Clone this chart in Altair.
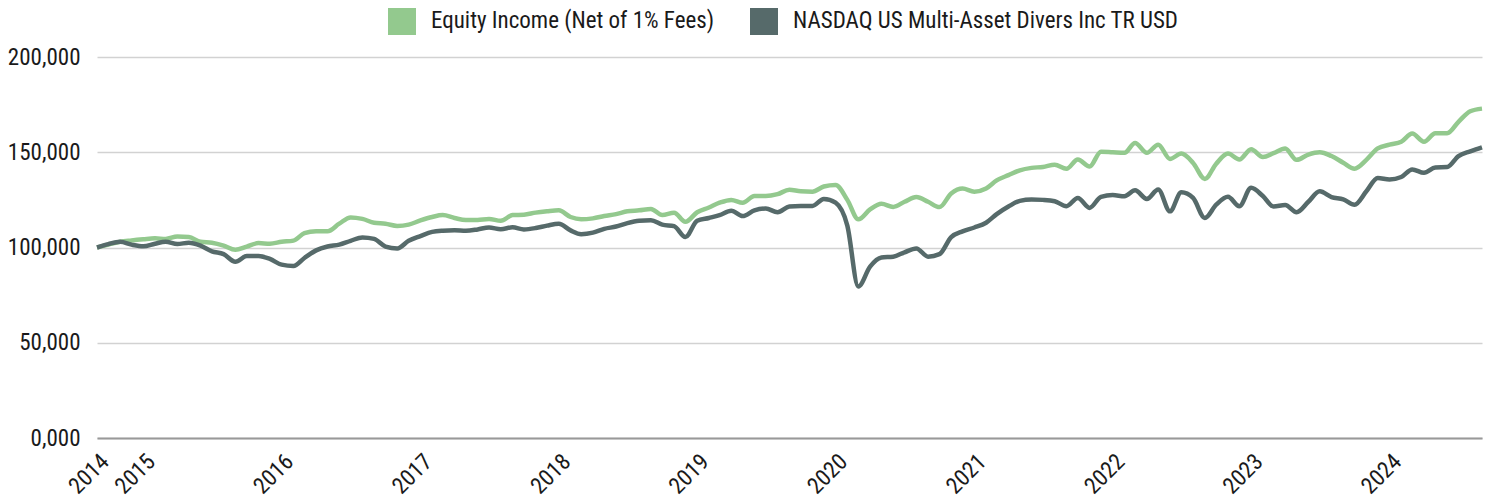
import altair as alt
import pandas as pd

# Monthly observations, Sep 2014 .. Sep 2024
start_month = "2014-09-01"
n_months = 121

series_names = ["Equity Income (Net of 1% Fees)", "NASDAQ US Multi-Asset Divers Inc TR USD"]
series_colors = ["#93C98E", "#566A6A"]

equity_income = [
    100.0, 101.5, 103.0, 103.7, 104.3, 104.8, 104.5, 105.8, 105.5, 103.0,
    102.5, 101.0, 98.8, 100.5, 102.3, 102.0, 103.0, 103.6, 107.5, 108.5,
    108.5, 112.5, 115.8, 115.0, 113.0, 112.5, 111.3, 112.0, 114.2, 116.0,
    117.0, 115.5, 114.4, 114.5, 115.0, 114.0, 117.0, 117.2, 118.3, 119.0,
    119.5, 116.0, 114.8, 115.3, 116.5, 117.5, 119.0, 119.5, 120.2, 117.0,
    118.3, 113.5, 118.5, 121.0, 123.5, 125.0, 123.5, 127.0, 127.0, 128.0,
    130.3, 129.5, 129.3, 132.0, 132.8, 125.0, 114.8, 120.0, 123.0, 121.3,
    124.0, 126.5, 124.0, 121.2, 128.4, 131.0, 129.3, 131.0, 135.2, 138.0,
    140.5, 141.8, 142.3, 143.5, 141.3, 146.2, 142.5, 150.3, 150.0, 149.7,
    154.9, 149.7, 154.0, 146.5, 149.3, 144.4, 136.0, 144.0, 149.3, 146.2,
    151.6, 147.5, 149.5, 152.0, 146.0, 148.8, 150.0, 148.0, 144.5, 141.4,
    146.0, 152.0, 154.0, 155.5, 159.8, 155.5, 160.0, 160.0, 166.0, 171.5,
    172.9,
]

nasdaq_index = [
    100.0, 101.8, 103.0, 101.5, 100.6, 102.0, 103.0, 101.8, 102.5, 101.0,
    98.0, 96.5, 92.5, 95.5, 95.5, 94.0, 91.0, 90.3, 94.5, 98.5,
    100.5, 101.5, 103.5, 105.3, 104.5, 100.5, 99.5, 103.5, 106.0, 108.2,
    108.8, 109.0, 108.8, 109.5, 110.5, 109.6, 110.6, 109.5, 110.2, 111.5,
    112.5, 109.0, 107.0, 107.8, 109.8, 111.0, 112.8, 114.0, 114.3, 112.0,
    111.2, 105.5, 114.0, 115.5, 117.0, 119.3, 116.5, 119.5, 120.5, 118.5,
    121.5, 121.8, 121.8, 125.5, 123.5, 111.5, 79.5, 90.0, 94.8, 95.2,
    97.5, 99.5, 95.2, 96.5, 105.5, 108.5, 110.5, 113.0, 117.5, 121.5,
    124.5, 125.2, 125.0, 124.3, 121.7, 126.0, 120.8, 126.6, 127.5, 126.9,
    130.0, 125.5, 130.4, 119.0, 129.0, 126.0, 115.5, 122.5, 126.6, 121.7,
    131.3, 127.0, 121.5, 122.3, 118.5, 124.0, 129.5, 126.5, 125.3, 122.5,
    129.5, 136.5, 135.7, 137.0, 141.0, 139.2, 142.0, 142.2, 148.0, 150.5,
    152.6,
]

y_ticks = [0, 50000, 100000, 150000, 200000]
x_label_years = [2015, 2016, 2017, 2018, 2019, 2020, 2021, 2022, 2023, 2024]

dates = pd.date_range(start_month, periods=n_months, freq="MS")
rows = []
for name, vals in zip(series_names, [equity_income, nasdaq_index]):
    for d, v in zip(dates, vals):
        rows.append({"date": d.strftime("%Y-%m-%d"), "value": v * 1000, "series": name})
df = pd.DataFrame(rows)

font = "Roboto Condensed, Liberation Sans Narrow, DejaVu Sans Condensed, Roboto, sans-serif"
fs = 23

x_values = [alt.DateTime(year=2014, month=9, date=1)] + [
    alt.DateTime(year=y, month=1, date=1) for y in x_label_years
]

chart = (
    alt.Chart(df)
    .mark_line(strokeWidth=4.5, interpolate="monotone")
    .encode(
        x=alt.X(
            "date:T",
            title=None,
            scale=alt.Scale(nice=False),
            axis=alt.Axis(
                values=x_values,
                format="%Y",
                labelAngle=-45,
                grid=False,
                ticks=False,
                domainColor="#999999",
                domainWidth=2,
                labelFontSize=fs,
                labelFont=font,
                labelColor="#1a1a1a",
                labelPadding=12,
                labelOverlap=False,
            ),
        ),
        y=alt.Y(
            "value:Q",
            title=None,
            scale=alt.Scale(domain=[0, 200000], nice=False),
            axis=alt.Axis(
                values=y_ticks,
                format="05,.0f",
                grid=True,
                gridColor="#d2d2d2",
                gridWidth=1.5,
                domain=False,
                ticks=False,
                labelFontSize=fs,
                labelFont=font,
                labelColor="#1a1a1a",
                labelPadding=17,
            ),
        ),
        color=alt.Color(
            "series:N",
            scale=alt.Scale(domain=series_names, range=series_colors),
            legend=alt.Legend(
                title=None,
                orient="none",
                legendX=291,
                legendY=-50,
                direction="horizontal",
                symbolType="square",
                symbolSize=196,
                symbolStrokeWidth=14,
                symbolOpacity=1,
                labelFontSize=fs,
                labelFont=font,
                labelColor="#1a1a1a",
                labelLimit=0,
                labelOffset=15,
                columnPadding=14,
                padding=0,
            ),
        ),
        order=alt.Order("series:N"),
    )
    .properties(
        width=1385,
        height=381,
        autosize=alt.AutoSizeParams(type="none"),
        padding={"left": 89, "top": 49, "right": 4, "bottom": 62},
    )
    .configure_view(stroke=None)
)

chart.save("out.html", embed_options={"renderer": "svg", "actions": False})
